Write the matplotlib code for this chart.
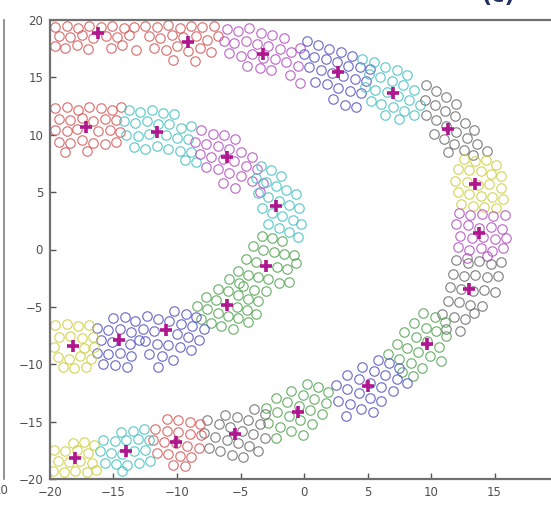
import matplotlib
matplotlib.use("Agg")
import matplotlib.pyplot as plt

# colours of the MATLAB-style cluster markers (faded by the scan)
RED = '#d65a5a'
GREEN = '#55a455'
BLUE = '#5555c4'
CYAN = '#45c2c2'
MAGENTA = '#b452c2'
YELLOW = '#cfcf40'
GRAY = '#6e6e6e'
CENTER = '#b0168e'

# ---- outer band, top arm to bottom arm ----
outer_red1 = [(-19.6, 19.4), (-18.7, 19.5), (-17.8, 19.3), (-16.9, 19.5), (-16.0, 19.4), (-15.1, 19.5),
              (-14.2, 19.3), (-13.4, 19.4), (-19.3, 18.6), (-18.4, 18.5), (-17.5, 18.7), (-16.6, 18.4),
              (-15.6, 18.6), (-14.7, 18.5), (-13.8, 18.7), (-19.6, 17.7), (-18.8, 17.6), (-17.9, 17.8),
              (-17.0, 17.5), (-15.2, 17.6), (-14.3, 17.8), (-13.2, 17.4)]
outer_red2 = [(-12.5, 19.5), (-11.6, 19.4), (-10.7, 19.6), (-9.8, 19.3), (-8.9, 19.5), (-8.0, 19.4),
              (-7.1, 19.5), (-12.2, 18.6), (-11.3, 18.4), (-10.4, 18.7), (-9.5, 18.5), (-8.5, 18.6),
              (-7.6, 18.3), (-6.8, 18.6), (-11.8, 17.6), (-10.9, 17.4), (-10.0, 17.7), (-9.1, 17.3),
              (-8.2, 17.6), (-7.3, 17.2), (-10.3, 16.5), (-8.6, 16.4)]
outer_magenta1 = [(-6.1, 19.2), (-5.2, 19.0), (-4.3, 19.3), (-3.4, 18.9), (-2.5, 18.7), (-1.6, 18.4),
                  (-6.3, 18.2), (-5.5, 18.0), (-4.6, 18.2), (-3.7, 17.9), (-2.8, 17.7), (-1.9, 17.5),
                  (-1.0, 17.2), (-0.3, 17.6), (-5.9, 17.1), (-5.0, 16.9), (-4.1, 17.0), (-3.2, 16.7),
                  (-2.3, 16.6), (-1.4, 16.3), (-0.5, 16.0), (-4.5, 16.0), (-3.5, 15.8), (-2.6, 15.6),
                  (-1.1, 15.2), (-0.3, 14.5)]
outer_blue1 = [(0.2, 18.2), (1.1, 17.8), (2.0, 17.5), (2.9, 17.2), (3.8, 16.9), (0.0, 17.0), (0.8, 16.8),
               (1.7, 16.6), (2.6, 16.3), (3.5, 16.0), (4.4, 15.9), (5.2, 15.7), (0.4, 15.9), (1.3, 15.6),
               (2.2, 15.4), (3.1, 15.1), (4.0, 14.9), (4.9, 14.7), (0.9, 14.6), (1.8, 14.4), (2.7, 14.1),
               (3.6, 13.8), (4.5, 13.6), (2.3, 13.1), (3.2, 12.6), (4.1, 12.4)]
outer_cyan1 = [(4.6, 16.6), (5.5, 16.3), (6.4, 15.9), (7.3, 15.6), (8.1, 15.2), (5.1, 15.3), (6.0, 15.0),
               (6.9, 14.7), (7.8, 14.3), (8.7, 13.9), (4.8, 14.2), (5.6, 13.9), (6.5, 13.7), (7.4, 13.4),
               (8.3, 13.0), (9.1, 12.6), (5.3, 12.9), (6.1, 12.7), (7.0, 12.4), (7.9, 12.1), (8.7, 11.7),
               (6.4, 11.7), (7.5, 11.4)]
outer_gray1 = [(9.6, 14.3), (10.4, 13.8), (11.2, 13.3), (12.0, 12.7), (9.5, 13.0), (10.3, 12.6), (11.1, 12.1),
               (11.9, 11.6), (12.7, 11.0), (13.4, 10.4), (9.6, 11.7), (10.4, 11.3), (11.2, 10.8), (12.0, 10.2),
               (12.8, 9.7), (13.6, 9.2), (10.2, 10.1), (11.0, 9.6), (11.8, 9.2), (12.6, 8.7), (13.3, 8.2),
               (14.4, 8.6), (11.3, 8.5)]
outer_yellow1 = [(12.6, 7.9), (13.5, 7.7), (14.3, 7.8), (15.1, 7.4), (12.1, 7.0), (13.0, 6.9), (13.9, 6.8),
                 (14.7, 6.6), (15.5, 6.4), (11.9, 6.0), (12.8, 5.9), (13.7, 5.6), (14.6, 5.7), (15.5, 5.4),
                 (12.1, 5.0), (13.0, 4.8), (13.9, 4.7), (14.8, 4.6), (15.7, 4.4), (12.4, 4.0), (13.3, 3.8),
                 (14.2, 3.7), (15.1, 3.6)]
outer_magenta2 = [(12.2, 3.2), (13.1, 3.0), (14.0, 3.1), (14.9, 2.9), (15.8, 3.0), (12.0, 2.2), (12.9, 2.1),
                  (13.8, 1.9), (14.7, 2.0), (15.6, 1.8), (12.3, 1.2), (13.2, 1.0), (14.1, 1.1), (15.0, 0.9),
                  (15.9, 1.0), (12.1, 0.2), (13.0, 0.0), (13.9, 0.1), (14.8, -0.1), (15.7, 0.1), (12.8, -0.7),
                  (14.4, -0.6)]
outer_gray2 = [(12.0, -0.9), (12.9, -1.2), (13.8, -1.0), (14.7, -1.3), (15.5, -1.1), (11.7, -2.1), (12.6, -2.3),
               (13.5, -2.2), (14.4, -2.4), (15.3, -2.3), (11.5, -3.3), (12.4, -3.4), (13.3, -3.6), (14.2, -3.5),
               (15.0, -3.7), (11.3, -4.5), (12.2, -4.6), (13.1, -4.8), (14.0, -4.9), (10.9, -5.6), (11.8, -5.9),
               (12.7, -6.1), (13.4, -5.5), (11.2, -6.9), (12.3, -7.1)]
outer_green1 = [(9.4, -5.5), (10.3, -5.9), (11.1, -6.3), (8.7, -6.4), (9.6, -6.8), (10.4, -7.1), (11.2, -7.5),
                (7.9, -7.2), (8.8, -7.6), (9.7, -8.0), (10.6, -8.5), (7.3, -8.2), (8.1, -8.6), (9.0, -8.9),
                (9.9, -9.3), (10.8, -9.7), (6.6, -9.1), (7.5, -9.5), (8.4, -9.9), (9.3, -10.3), (7.7, -10.7),
                (8.6, -11.0)]
outer_blue2 = [(5.8, -9.6), (6.7, -9.9), (7.5, -10.3), (4.6, -10.2), (5.5, -10.6), (6.4, -10.9), (7.3, -11.3),
               (8.1, -11.6), (3.4, -10.9), (4.3, -11.3), (5.2, -11.6), (6.1, -12.0), (7.0, -12.3), (2.5, -11.8),
               (3.4, -12.2), (4.3, -12.5), (5.2, -12.9), (6.1, -13.2), (2.7, -13.2), (3.6, -13.5), (4.5, -13.9),
               (5.4, -14.2), (3.3, -14.5)]
outer_green2 = [(0.2, -11.7), (1.1, -12.0), (1.9, -12.4), (-1.0, -12.3), (-0.1, -12.7), (0.8, -13.0),
                (1.7, -13.4), (-2.2, -12.9), (-1.3, -13.3), (-0.4, -13.6), (0.5, -14.0), (1.4, -14.3),
                (-3.0, -13.8), (-2.1, -14.2), (-1.2, -14.5), (-0.3, -14.9), (0.6, -15.2), (-2.8, -15.1),
                (-1.9, -15.5), (-1.0, -15.8), (-0.1, -16.2), (-2.2, -16.4)]
outer_gray3 = [(-3.9, -13.9), (-3.1, -14.3), (-6.2, -14.4), (-5.3, -14.6), (-4.4, -14.9), (-3.5, -15.2),
               (-7.6, -14.9), (-6.7, -15.2), (-5.8, -15.5), (-4.9, -15.8), (-4.0, -16.1), (-3.1, -16.4),
               (-7.9, -16.0), (-7.0, -16.3), (-6.1, -16.6), (-5.2, -16.9), (-4.3, -17.1), (-7.5, -17.3),
               (-6.6, -17.6), (-5.7, -17.9), (-4.8, -18.1), (-3.6, -17.6)]
outer_red3 = [(-10.8, -14.8), (-9.9, -14.9), (-9.0, -15.0), (-8.2, -15.2), (-11.7, -15.6), (-10.8, -15.8),
              (-9.9, -15.9), (-9.0, -16.1), (-8.1, -16.2), (-11.9, -16.6), (-11.0, -16.8), (-10.1, -16.9),
              (-9.2, -17.1), (-8.3, -17.3), (-11.6, -17.7), (-10.7, -17.8), (-9.8, -18.0), (-8.9, -18.1),
              (-10.3, -18.8), (-9.4, -18.9)]
outer_cyan2 = [(-14.4, -15.9), (-13.5, -15.8), (-12.6, -15.6), (-15.8, -16.6), (-14.9, -16.7), (-14.0, -16.6),
               (-13.1, -16.5), (-12.2, -16.6), (-16.1, -17.6), (-15.2, -17.7), (-14.3, -17.8), (-13.4, -17.6),
               (-12.5, -17.5), (-15.7, -18.6), (-14.8, -18.7), (-13.9, -18.8), (-13.0, -18.6), (-12.1, -18.4),
               (-14.3, -19.3)]
outer_yellow2 = [(-18.2, -16.9), (-17.3, -16.8), (-16.5, -17.0), (-19.7, -17.5), (-18.8, -17.6), (-17.9, -17.5),
                 (-17.0, -17.7), (-19.4, -18.4), (-18.5, -18.5), (-17.6, -18.4), (-16.7, -18.6), (-19.8, -19.3),
                 (-18.9, -19.4), (-18.0, -19.3), (-17.1, -19.4), (-16.4, -19.2)]

# ---- inner band ----
inner_red = [(-19.6, 12.3), (-18.7, 12.4), (-17.8, 12.2), (-16.9, 12.4), (-16.0, 12.3), (-15.1, 12.2),
             (-14.4, 12.4), (-19.3, 11.4), (-18.4, 11.3), (-17.5, 11.5), (-16.6, 11.2), (-15.7, 11.4),
             (-14.8, 11.3), (-19.6, 10.4), (-18.7, 10.3), (-17.9, 10.5), (-16.2, 10.3), (-15.3, 10.4),
             (-14.5, 10.2), (-19.3, 9.4), (-18.4, 9.3), (-17.5, 9.5), (-16.6, 9.3), (-15.7, 9.2),
             (-14.8, 9.4), (-18.8, 8.5), (-17.1, 8.6)]
inner_cyan1 = [(-13.8, 12.2), (-12.9, 12.0), (-12.0, 12.2), (-11.1, 11.9), (-10.2, 11.8), (-14.2, 11.2),
               (-13.3, 11.0), (-12.4, 11.2), (-11.5, 10.9), (-10.6, 10.9), (-9.7, 10.6), (-8.9, 10.8),
               (-14.0, 10.0), (-13.1, 9.9), (-12.2, 10.1), (-10.9, 10.0), (-10.0, 9.7), (-9.1, 9.6),
               (-13.4, 8.9), (-12.5, 8.8), (-11.6, 9.0), (-10.7, 8.8), (-9.8, 8.6), (-8.9, 8.5),
               (-9.4, 7.8), (-8.5, 7.6)]
inner_magenta = [(-8.1, 10.4), (-7.2, 10.1), (-6.3, 10.0), (-5.4, 9.6), (-8.6, 9.4), (-7.7, 9.2), (-6.8, 9.0),
                 (-5.9, 8.8), (-5.0, 8.5), (-4.1, 8.1), (-8.2, 8.3), (-7.3, 8.1), (-6.4, 7.9), (-5.5, 7.7),
                 (-4.6, 7.3), (-3.7, 7.0), (-7.7, 7.2), (-6.8, 7.0), (-5.9, 6.7), (-5.0, 6.4), (-4.1, 6.0),
                 (-3.2, 5.8), (-6.4, 5.8), (-5.4, 5.4), (-3.5, 5.0)]
inner_cyan2 = [(-3.4, 7.3), (-2.6, 6.9), (-1.8, 6.4), (-3.8, 6.2), (-3.0, 5.9), (-2.2, 5.5), (-1.4, 5.2),
               (-0.6, 4.8), (-3.6, 4.9), (-2.8, 4.6), (-2.0, 4.2), (-1.2, 3.9), (-0.4, 3.6), (-3.3, 3.6),
               (-2.5, 3.2), (-1.7, 2.9), (-0.9, 2.6), (-0.2, 2.2), (-2.8, 2.2), (-2.0, 1.9), (-1.2, 1.5),
               (-0.5, 1.1)]
inner_green1 = [(-3.3, 1.2), (-2.5, 1.0), (-1.7, 0.7), (-4.0, 0.3), (-3.2, 0.0), (-2.4, -0.2), (-1.6, -0.4),
                (-0.8, -0.5), (-4.6, -0.8), (-3.8, -1.1), (-2.1, -1.5), (-1.3, -1.7), (-0.6, -1.2),
                (-5.2, -1.9), (-4.4, -2.2), (-3.6, -2.4), (-2.8, -2.6), (-2.0, -2.9), (-1.2, -2.8),
                (-4.8, -3.2), (-3.9, -3.5), (-3.0, -3.6)]
inner_green2 = [(-5.9, -2.6), (-5.1, -2.9), (-6.8, -3.4), (-6.0, -3.6), (-5.2, -4.0), (-4.4, -4.3),
                (-3.6, -4.5), (-7.7, -4.1), (-6.9, -4.4), (-5.3, -5.0), (-4.5, -5.3), (-3.8, -5.6),
                (-8.4, -4.9), (-7.6, -5.2), (-6.8, -5.5), (-6.0, -5.8), (-5.2, -6.0), (-4.4, -6.3),
                (-8.1, -6.1), (-7.3, -6.4), (-6.5, -6.7), (-5.6, -6.9)]
inner_blue1 = [(-10.2, -5.4), (-9.3, -5.6), (-8.5, -5.9), (-12.4, -5.8), (-11.5, -6.1), (-10.6, -6.2),
               (-9.7, -6.5), (-8.8, -6.7), (-7.9, -6.9), (-12.7, -6.9), (-11.8, -7.1), (-10.0, -7.4),
               (-9.1, -7.6), (-8.3, -7.9), (-12.5, -8.0), (-11.6, -8.2), (-10.7, -8.3), (-9.8, -8.5),
               (-8.9, -8.8), (-12.2, -9.1), (-11.2, -9.3), (-10.3, -9.6), (-11.5, -10.2)]
inner_blue2 = [(-15.0, -6.0), (-14.1, -5.9), (-13.3, -6.2), (-16.3, -6.8), (-15.4, -7.0), (-14.5, -6.9),
               (-13.6, -7.2), (-16.0, -7.9), (-15.1, -8.1), (-13.7, -8.2), (-13.0, -7.9), (-16.3, -9.0),
               (-15.4, -9.1), (-14.5, -9.0), (-13.6, -9.3), (-15.8, -10.0), (-14.9, -10.1), (-13.9, -10.2)]
inner_yellow = [(-19.6, -6.6), (-18.7, -6.5), (-17.8, -6.7), (-16.9, -6.6), (-19.3, -7.6), (-18.4, -7.5),
                (-17.5, -7.7), (-16.6, -7.6), (-19.7, -8.5), (-17.3, -8.6), (-16.5, -8.5), (-19.4, -9.4),
                (-18.5, -9.5), (-17.6, -9.3), (-16.8, -9.5), (-19.0, -10.2), (-18.1, -10.3), (-17.2, -10.2)]

# cluster centres (the magenta plus signs)
centers_x = [-16.2, -9.1, -3.2, 2.7, 7.0, 11.3, 13.5, 13.8, 13.0, 9.7, 5.0, -0.5, -5.4, -10.1, -14.0, -18.0,
             -17.2, -11.6, -6.1, -2.2, -3.0, -6.1, -10.9, -14.6, -18.2]
centers_y = [18.9, 18.1, 17.0, 15.5, 13.6, 10.5, 5.7, 1.4, -3.4, -8.2, -11.9, -14.2, -16.1, -16.8, -17.6, -18.2,
             10.7, 10.2, 8.1, 3.8, -1.4, -4.8, -7.0, -7.9, -8.4]

xticks = [-20, -15, -10, -5, 0, 5, 10, 15, 20]
yticks = [-20, -15, -10, -5, 0, 5, 10, 15, 20]

clusters = [
    (outer_red1, RED), (outer_red2, RED), (outer_magenta1, MAGENTA), (outer_blue1, BLUE),
    (outer_cyan1, CYAN), (outer_gray1, GRAY), (outer_yellow1, YELLOW), (outer_magenta2, MAGENTA),
    (outer_gray2, GRAY), (outer_green1, GREEN), (outer_blue2, BLUE), (outer_green2, GREEN),
    (outer_gray3, GRAY), (outer_red3, RED), (outer_cyan2, CYAN), (outer_yellow2, YELLOW),
    (inner_red, RED), (inner_cyan1, CYAN), (inner_magenta, MAGENTA), (inner_cyan2, CYAN),
    (inner_green1, GREEN), (inner_green2, GREEN), (inner_blue1, BLUE), (inner_blue2, BLUE),
    (inner_yellow, YELLOW),
]

W, H = 551, 507
fig = plt.figure(figsize=(W / 100, H / 100), dpi=100)
# the axes run past the right edge of the crop, like the scanned original
ax = fig.add_axes([50 / W, (H - 479) / H, 508 / W, 459 / H])

for pts, col in clusters:
    xs = [p[0] for p in pts]
    ys = [p[1] for p in pts]
    ax.plot(xs, ys, 'o', mfc='none', mec=col, ms=6.8, mew=0.85, alpha=0.85)

ax.plot(centers_x, centers_y, '+', color=CENTER, ms=8, mew=2.6)

ax.set_xlim(-20, 20)
ax.set_ylim(-20, 20)
ax.set_xticks(xticks)
ax.set_yticks(yticks)
ax.tick_params(direction='in', length=4, width=1, colors='#555555', labelsize=8.5,
               labelcolor='#505050', pad=5)
for s in ax.spines.values():
    s.set_color('#707070')
    s.set_linewidth(1.6)

# bits of the neighbouring panel and the panel label that the crop cut off
fig.add_artist(plt.Line2D([4 / W, 4 / W], [(H - 479) / H, (H - 20) / H], color='#808080', lw=1.2))
fig.text(8 / W, (H - 490) / H, '20', ha='right', va='center', fontsize=8.5, color='#505050')
fig.text(498 / W, 1 - 2 / H, '(c)', ha='center', va='baseline', fontsize=16, fontweight='bold',
         color='#203060')

fig.savefig('out.png', dpi=100)
